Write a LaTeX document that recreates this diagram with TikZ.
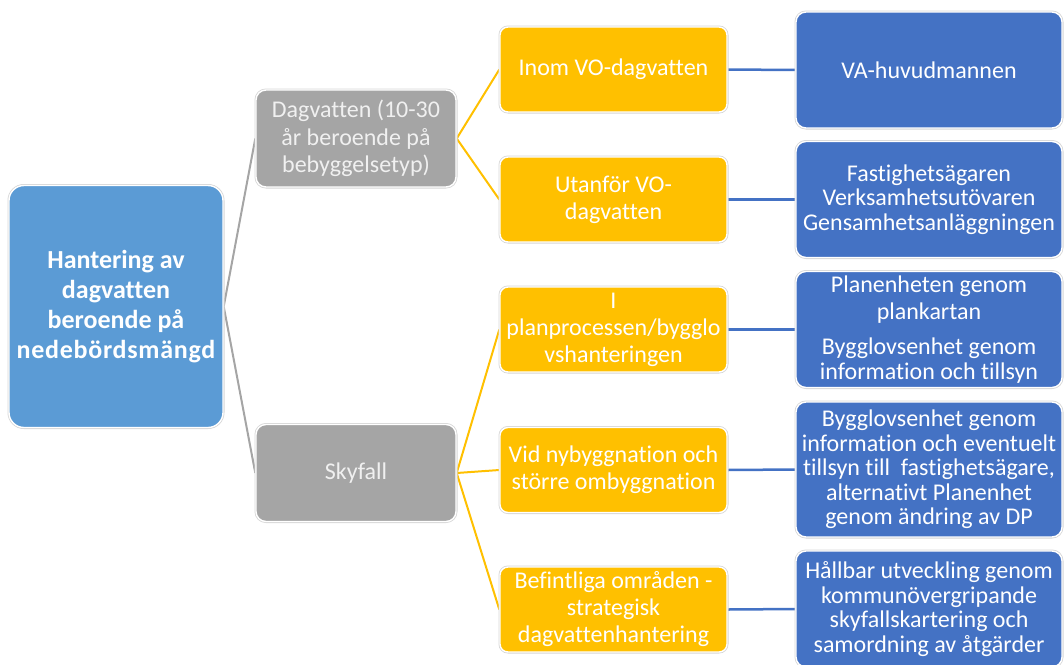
\documentclass[tikz,border=0pt]{standalone}
\usepackage{fontspec}
\setmainfont{Carlito}[RawFeature={-liga;-clig;-calt;-dlig}]
\usetikzlibrary{backgrounds}
\definecolor{rootblue}{HTML}{5B9BD5}
\definecolor{boxgray}{HTML}{A5A5A5}
\definecolor{boxyellow}{HTML}{FFC000}
\definecolor{boxblue}{HTML}{4472C4}
\definecolor{rimgray}{HTML}{D6D6D6}
\begin{document}
\begin{tikzpicture}[x=1pt,y=-1pt,
  basebox/.style={rectangle, inner sep=0pt, align=center, text=white,
    preaction={draw=rimgray, line width=3pt}, draw=white, line width=1.4pt},
  rootbox/.style={basebox, fill=rootblue, rounded corners=15pt,
    minimum width=214pt, minimum height=242pt,
    font=\fontsize{26}{30}\selectfont\bfseries},
  graybox/.style={basebox, fill=boxgray, rounded corners=10pt, text=white!94!black,
    minimum width=200pt, minimum height=97pt,
    font=\fontsize{24}{27.5}\selectfont},
  yellowbox/.style={basebox, fill=boxyellow, rounded corners=8pt,
    minimum width=227pt, minimum height=85pt,
    font=\fontsize{24}{27}\selectfont},
  bluebox/.style={basebox, fill=boxblue, rounded corners=10pt,
    minimum width=266pt, minimum height=116pt,
    font=\fontsize{24}{24.6}\selectfont},
  grayline/.style={draw=boxgray, line width=2pt},
  yellowline/.style={draw=boxyellow, line width=2pt},
  blueline/.style={draw=boxblue, line width=2.5pt}
]
\useasboundingbox (0,0) rectangle (1064,664);
\clip (0,0) rectangle (1064,664);

% level 0
\node[rootbox] (root) at (116,306.5) {Hantering av\\dagvatten\\beroende på\\{\addfontfeature{LetterSpace=2.8}nedebördsmängd}};

% level 1
\node[graybox] (dag) at (356,138.5) {Dagvatten (10-30\\år beroende på\\bebyggelsetyp)};
\node[graybox] (sky) at (356,473) {Skyfall};

% level 2
\node[yellowbox] (inom) at (613.5,69.5) {Inom VO-dagvatten};
\node[yellowbox] (utan) at (613.5,199.5) {Utanför VO-\\dagvatten};
\node[yellowbox] (plan) at (613.5,329.5) {I\\planprocessen/bygglo\\vshanteringen};
\node[yellowbox] (vid) at (613.5,470) {Vid nybyggnation och\\större ombyggnation};
\node[yellowbox] (bef) at (613.5,609.5) {Befintliga områden -\\strategisk\\dagvattenhantering};

% level 3
\node[bluebox] (va) at (929,70) {VA-huvudmannen};
\node[bluebox] (fast) at (929,199.5) {Fastighetsägaren\\Verksamhetsutövaren\\Gensamhetsanläggningen};
\node[bluebox] (planenh) at (929,329.5) {Planenheten genom\\[2.4pt]plankartan\\[11pt]Bygglovsenhet genom\\information och tillsyn};
\node[bluebox, minimum height=135pt] (byggl) at (929,469.5) {Bygglovsenhet genom\\information och eventuelt\\tillsyn till\ \ fastighetsägare,\\alternativt Planenhet\\genom ändring av DP};
\node[bluebox] (hall) at (929,609) {Hållbar utveckling genom\\kommunövergripande\\skyfallskartering och\\samordning av åtgärder};

% connectors
\begin{scope}[on background layer]
\draw[grayline] (root.east) -- (dag.west);
\draw[grayline] (root.east) -- (sky.west);
\draw[yellowline] (dag.east) -- (inom.west);
\draw[yellowline] (dag.east) -- (utan.west);
\draw[yellowline] (sky.east) -- (plan.west);
\draw[yellowline] (sky.east) -- (vid.west);
\draw[yellowline] (sky.east) -- (bef.west);
\draw[blueline] (inom.east) -- (va.west);
\draw[blueline] (utan.east) -- (fast.west);
\draw[blueline] (plan.east) -- (planenh.west);
\draw[blueline] (vid.east) -- (byggl.west);
\draw[blueline] (bef.east) -- (hall.west);
\end{scope}
\end{tikzpicture}
\end{document}
